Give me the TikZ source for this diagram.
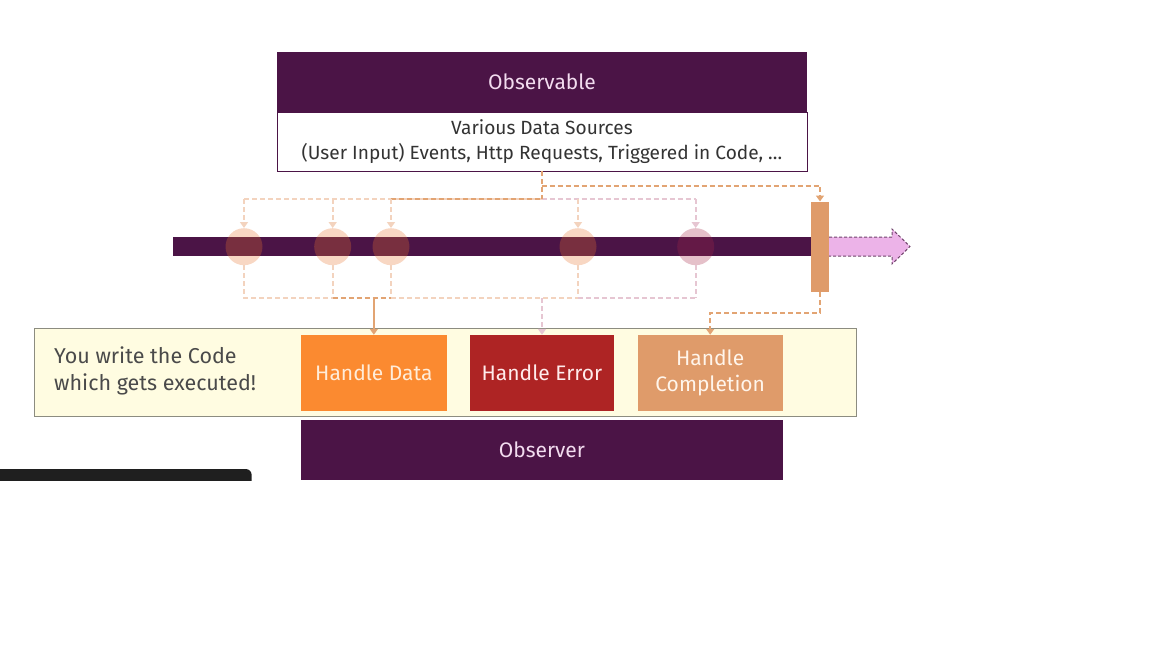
\documentclass[tikz,border=0pt]{standalone}
\usepackage{fontspec}
\setmainfont{Fira Sans}
\usetikzlibrary{arrows.meta}
\definecolor{obspurple}{HTML}{4B1446}
\definecolor{obstext}{HTML}{F2DCEF}
\definecolor{peach}{HTML}{E77431}
\definecolor{pinkc}{HTML}{A42646}
\definecolor{dataorange}{HTML}{FB8A30}
\definecolor{errred}{HTML}{AE2424}
\definecolor{complete}{HTML}{DF9B6A}
\definecolor{yellowbg}{HTML}{FFFCE1}
\definecolor{graybd}{HTML}{8C8C80}
\definecolor{darktext}{HTML}{4A4A4A}
\definecolor{dashpeach}{HTML}{F3D3BE}
\definecolor{dashorange}{HTML}{E2A473}
\definecolor{dashpink}{HTML}{E6C6D2}
\definecolor{arrowpink}{HTML}{ECB3E8}
\tikzset{
  x=1pt, y=-1pt,
  box/.style={rectangle, inner sep=0pt, align=center, font=\fontsize{21}{26}\selectfont},
  event/.style={circle, inner sep=0pt, minimum size=37pt, fill=#1, fill opacity=0.29},
  dline/.style={draw=#1, line width=2pt, dash pattern=on 5pt off 3pt},
  tip/.style={-{Triangle[width=8pt,length=6pt]}},
}
\begin{document}
\begin{tikzpicture}
\useasboundingbox (0,0) rectangle (1152,648);
% observable
\node[box, fill=obspurple, text=obstext, minimum width=530pt, minimum height=60pt] (obs) at (542,82) {Observable};
\node[box, draw=obspurple, line width=0.8pt, fill=white, text=black!80, minimum width=530pt, minimum height=59pt, font=\fontsize{19.1}{25}\selectfont] (src) at (542,141.5) {Various Data Sources\\(User Input) Events, Http Requests, Triggered in Code, \dots};
% timeline
\node[rectangle, inner sep=0pt, fill=obspurple, minimum width=639pt, minimum height=19pt] (line) at (492.5,246.5) {};
\node[rectangle, inner sep=0pt, fill=complete, minimum width=18pt, minimum height=90pt] (bar) at (820,246.7) {};
% pink arrow
\draw[fill=arrowpink, draw=obspurple!80, line width=1pt, dash pattern=on 3pt off 2pt] (829,237) -- (892,237) -- (892,229) -- (910,246.5) -- (892,264) -- (892,256) -- (829,256);
% events
\node[event=peach] (c1) at (244,246.7) {};
\node[event=peach] (c2) at (332.7,246.7) {};
\node[event=peach] (c3) at (391,246.7) {};
\node[event=peach] (c4) at (578,246.7) {};
\node[event=pinkc] (c5) at (695.7,246.7) {};
% junction coordinates
\coordinate (s0) at (541.7,171);
\coordinate (j0) at (541.7,199);
\coordinate (jb) at (541.7,185.7);
\coordinate (jr) at (820,185.7);
\coordinate (t1) at (244,199);
\coordinate (t2) at (332.7,199);
\coordinate (t3) at (391,199);
\coordinate (t4) at (578,199);
\coordinate (t5) at (695.7,199);
\coordinate (b1) at (244,298.3);
\coordinate (b2) at (332.7,298.3);
\coordinate (b3) at (391,298.3);
\coordinate (b4) at (578,298.3);
\coordinate (b5) at (695.7,298.3);
\coordinate (bd) at (373.85,298.3);
\coordinate (be) at (542,298.3);
\coordinate (k1) at (820,312.7);
\coordinate (k2) at (710.2,312.7);
% yellow box
\node[rectangle, draw=graybd, line width=1pt, fill=yellowbg, minimum width=822pt, minimum height=88pt] (code) at (445.8,372.5) {};
\node[anchor=west, align=left, text=darktext, font=\fontsize{21.5}{27}\selectfont, inner sep=0pt] (you) at (54,370.5) {You write the Code\\which gets executed!};
\node[box, fill=dataorange, text=orange!15!white, minimum width=145.7pt, minimum height=76pt] (hd) at (373.85,373) {Handle Data};
\node[box, fill=errred, text=red!8!white, minimum width=144pt, minimum height=76pt] (he) at (542,373) {Handle Error};
\node[box, fill=complete, text=orange!8!white, minimum width=145pt, minimum height=76pt] (hc) at (710.2,373) {Handle\\Completion};
% observer
\node[box, fill=obspurple, text=obstext, minimum width=481.7pt, minimum height=60pt] (obsr) at (541.85,450) {Observer};
% black overlay bar
\begin{scope}
\clip (0,0) rectangle (1152,480);
\fill[black!88, rounded corners=6pt] (-20,469) rectangle (251.7,500);
\end{scope}
% upper dashed connectors
\draw[dline=dashpeach] (t1) -- (j0);
\draw[dline=dashpink] (j0) -- (t5);
\draw[dline=dashorange] (s0) -- (j0);
\draw[dline=dashorange] (t3) -- (j0);
\draw[dline=dashorange, tip] (jb) -- (jr) -- (jr |- bar.north);
\draw[dline=dashpeach, tip] (t1) -- (c1.north);
\draw[dline=dashpeach, tip] (t2) -- (c2.north);
\draw[dline=dashpeach, tip] (t3) -- (c3.north);
\draw[dline=dashpeach, tip] (t4) -- (c4.north);
\draw[dline=dashpink, tip] (t5) -- (c5.north);
% lower dashed connectors
\draw[dline=dashpeach] (c1.south) -- (b1) -- (b2);
\draw[dline=dashpeach] (c2.south) -- (b2);
\draw[dline=dashpeach] (c3.south) -- (b3);
\draw[dline=dashorange] (b2) -- (b3);
\draw[dline=dashpeach] (b3) -- (b4);
\draw[dline=dashpeach] (c4.south) -- (b4);
\draw[dline=dashpink] (b4) -- (b5);
\draw[dline=dashpink] (c5.south) -- (b5);
\draw[draw=dashorange, line width=2pt, tip] (bd) -- (bd |- hd.north);
\draw[dline=dashpink, tip] (be) -- (be |- he.north);
\draw[dline=dashorange, tip] (bar.south) -- (k1) -- (k2) -- (k2 |- hc.north);
\end{tikzpicture}
\end{document}
